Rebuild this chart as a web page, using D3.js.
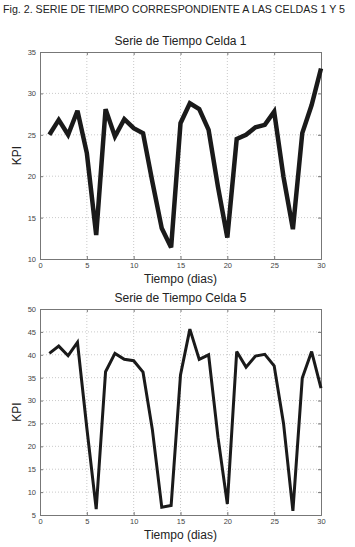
<!DOCTYPE html>
<html><head><meta charset="utf-8">
<script src="https://cdn.jsdelivr.net/npm/d3@7"></script>
<style>body{margin:0;background:#fff;} svg{display:block;}</style>
</head><body>
<svg id="c" width="355" height="547"></svg>
<script>
const days = d3.range(1, 31);
const celda1 = [25.0,26.8,25.0,27.9,22.8,12.9,28.1,24.8,26.9,25.8,25.2,19.3,13.7,11.4,26.4,28.8,28.1,25.6,18.7,12.6,24.5,25.0,25.9,26.2,27.8,19.9,13.6,25.2,28.6,33.0];
const celda5 = [40.3,41.9,39.8,42.7,24.0,6.3,36.3,40.3,39.0,38.7,36.2,23.6,6.7,7.1,35.6,45.6,39.0,40.0,22.0,7.4,40.7,37.3,39.7,40.1,37.6,25.0,5.9,34.9,40.7,32.7];
const xTicks = [0,5,10,15,20,25,30];
const y1Ticks = [10,15,20,25,30,35];
const y5Ticks = [5,10,15,20,25,30,35,40,45,50];
const caption = "Fig. 2. SERIE DE TIEMPO CORRESPONDIENTE A LAS CELDAS 1 Y 5";
const titles = ["Serie de Tiempo Celda 1", "Serie de Tiempo Celda 5"];
const xLabel = "Tiempo (dias)";
const yLabel = "KPI";

const svg = d3.select("#c");
svg.append("text").attr("x", 3).attr("y", 13).attr("font-family", "'Liberation Sans Narrow','Liberation Sans',Arial,sans-serif")
  .attr("font-size", 11).attr("fill", "#222").attr("textLength", 342).attr("lengthAdjust", "spacingAndGlyphs").text(caption);

function panel(cfg) {
  const {top, bottom, left, right, data, yDom, yTicks, title, lw} = cfg;
  const x = d3.scaleLinear().domain([0, 30]).range([left, right]);
  const y = d3.scaleLinear().domain(yDom).range([bottom, top]);
  const g = svg.append("g");
  g.selectAll(".gx").data(xTicks.filter(t => t > 0 && t < 30)).join("line")
    .attr("x1", d => x(d)).attr("x2", d => x(d)).attr("y1", top).attr("y2", bottom)
    .attr("stroke", "#bbb").attr("stroke-width", 0.8).attr("stroke-dasharray", "1,2");
  g.selectAll(".gy").data(yTicks.filter(t => t > yDom[0] && t < yDom[1])).join("line")
    .attr("y1", d => y(d)).attr("y2", d => y(d)).attr("x1", left).attr("x2", right)
    .attr("stroke", "#bbb").attr("stroke-width", 0.8).attr("stroke-dasharray", "1,2");
  const axB = d3.axisBottom(x).tickValues(xTicks).tickSize(-3).tickPadding(4).tickFormat(d3.format("d"));
  const axL = d3.axisLeft(y).tickValues(yTicks).tickSize(-3).tickPadding(4).tickFormat(d3.format("d"));
  const axT = d3.axisTop(x).tickValues(xTicks).tickSize(-3).tickFormat("");
  const axR = d3.axisRight(y).tickValues(yTicks).tickSize(-3).tickFormat("");
  const style = sel => {
    sel.selectAll("path").attr("stroke", "#777").attr("stroke-width", 1);
    sel.selectAll("line").attr("stroke", "#777");
    sel.selectAll("text").attr("fill", "#444").attr("font-size", 7.5).attr("font-family", "'Liberation Sans',Arial,sans-serif");
  };
  g.append("g").attr("transform", `translate(0,${bottom})`).call(axB).call(style);
  g.append("g").attr("transform", `translate(${left},0)`).call(axL).call(style);
  g.append("g").attr("transform", `translate(0,${top})`).call(axT).call(style);
  g.append("g").attr("transform", `translate(${right},0)`).call(axR).call(style);
  const line = d3.line().x((d, i) => x(days[i])).y(d => y(d));
  g.append("path").datum(data).attr("d", line).attr("fill", "none").attr("stroke", "#1a1a1a")
    .attr("stroke-width", lw).attr("stroke-linejoin", "miter").attr("stroke-miterlimit", 3);
  g.append("text").attr("x", (left + right) / 2).attr("y", top - 7).attr("text-anchor", "middle")
    .attr("font-family", "'Liberation Sans',Arial,sans-serif").attr("font-size", 12).attr("fill", "#222").text(title);
  g.append("text").attr("x", (left + right) / 2).attr("y", bottom + 24).attr("text-anchor", "middle")
    .attr("font-family", "'Liberation Sans',Arial,sans-serif").attr("font-size", 12).attr("fill", "#222").text(xLabel);
  g.append("text").attr("transform", `translate(21,${(top + bottom) / 2}) rotate(-90)`).attr("text-anchor", "middle")
    .attr("font-family", "'Liberation Sans',Arial,sans-serif").attr("font-size", 12).attr("fill", "#222").text(yLabel);
}
panel({top: 52, bottom: 259, left: 40, right: 321, data: celda1, yDom: [10, 35], yTicks: y1Ticks, title: titles[0], lw: 4.5});
panel({top: 309, bottom: 515, left: 40, right: 321, data: celda5, yDom: [5, 50], yTicks: y5Ticks, title: titles[1], lw: 3});
</script>
</body></html>
